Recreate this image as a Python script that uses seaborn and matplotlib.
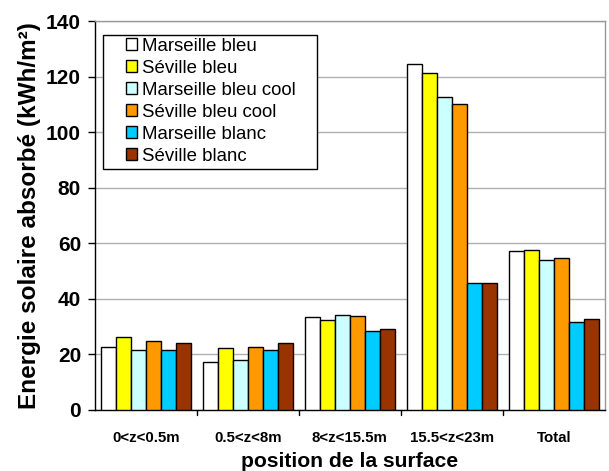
import matplotlib
matplotlib.use("Agg")
import matplotlib.pyplot as plt
from matplotlib.patches import Rectangle
import seaborn as sns
import pandas as pd
import numpy as np

categories = ["0<z<0.5m", "0.5<z<8m", "8<z<15.5m", "15.5<z<23m", "Total"]
series = ["Marseille bleu", "Séville bleu", "Marseille bleu cool",
          "Séville bleu cool", "Marseille blanc", "Séville blanc"]
marseille_bleu = [22.5, 17.2, 33.3, 124.5, 57.3]
seville_bleu = [26.2, 22.3, 32.5, 121.2, 57.7]
marseille_bleu_cool = [21.4, 17.9, 34.3, 112.6, 54.1]
seville_bleu_cool = [24.9, 22.6, 33.8, 110.0, 54.6]
marseille_blanc = [21.7, 21.7, 28.3, 45.8, 31.7]
seville_blanc = [24.2, 24.2, 29.2, 45.7, 32.7]
colors = ["#FFFFFF", "#FFFF00", "#CCFFFF", "#FF9900", "#00CCFF", "#993300"]
yticks = [0, 20, 40, 60, 80, 100, 120, 140]

values = [marseille_bleu, seville_bleu, marseille_bleu_cool,
          seville_bleu_cool, marseille_blanc, seville_blanc]
rows = []
for s, vals in zip(series, values):
    for c, v in zip(categories, vals):
        rows.append({"cat": c, "serie": s, "val": v})
df = pd.DataFrame(rows)

sns.set_style("white")
plt.rcParams['font.family'] = ['Liberation Sans', 'DejaVu Sans']
plt.rcParams['text.color'] = 'black'
plt.rcParams['axes.labelcolor'] = 'black'
plt.rcParams['xtick.color'] = 'black'
plt.rcParams['ytick.color'] = 'black'

fig = plt.figure(figsize=(6.09, 4.71), dpi=100)
ax = fig.add_axes([0.156, 0.130, 0.837, 0.825])

sns.barplot(data=df, x="cat", y="val", hue="serie", order=categories,
            hue_order=series, palette=colors, saturation=1, width=0.88, gap=0,
            edgecolor="black", linewidth=1.0, ax=ax, zorder=3)

ax.set_ylim(0, 140)
ax.set_xlim(-0.5, len(categories) - 0.5)
ax.set_yticks(yticks)
ax.set_yticklabels([str(t) for t in yticks], fontsize=15, fontweight="bold")
ax.yaxis.grid(True, color="#b0b0b0", linewidth=1.0, zorder=0)
ax.set_axisbelow(True)

ax.set_xticks(range(len(categories)))
ax.set_xticklabels(categories, fontsize=10.8, fontweight="bold")
ax.tick_params(axis="x", length=0, pad=15)
for b in np.arange(0.5, len(categories) - 1, 1.0):
    ax.plot([b, b], [0, -2.0], color="black", lw=1, clip_on=False, zorder=4)
ax.tick_params(axis="y", direction="out", length=5, width=1, color="black",
               left=True, pad=5)

for sp in ["left", "bottom"]:
    ax.spines[sp].set_color("black")
    ax.spines[sp].set_linewidth(1.0)
for sp in ["top", "right"]:
    ax.spines[sp].set_color("#999999")
    ax.spines[sp].set_linewidth(1.0)

ax.set_xlabel("position de la surface", fontsize=15.2, fontweight="bold", labelpad=5)
ax.set_ylabel("Energie solaire absorbé (kWh/m²)", fontsize=17.5, fontweight="bold", labelpad=4)

leg = ax.legend(loc="upper left", bbox_to_anchor=(0.061, 0.958), fontsize=13.4,
                frameon=False,
                handlelength=0.6, handleheight=0.6, handletextpad=0.25,
                labelspacing=0.27, borderpad=0.0, borderaxespad=0)
for h in leg.legend_handles:
    h.set_edgecolor("black")
    h.set_linewidth(1.0)

fig.canvas.draw()
bb = leg.get_window_extent()
frame = Rectangle((bb.x0 - 23, bb.y0 - 4), bb.width + 23 + 21, bb.height + 4 + 3,
                  transform=None, facecolor="white", edgecolor="black",
                  linewidth=1.0, zorder=5)
fig.add_artist(frame)
leg.set_zorder(6)
leg.remove()
fig.add_artist(leg)

fig.savefig("out.png", dpi=100)
